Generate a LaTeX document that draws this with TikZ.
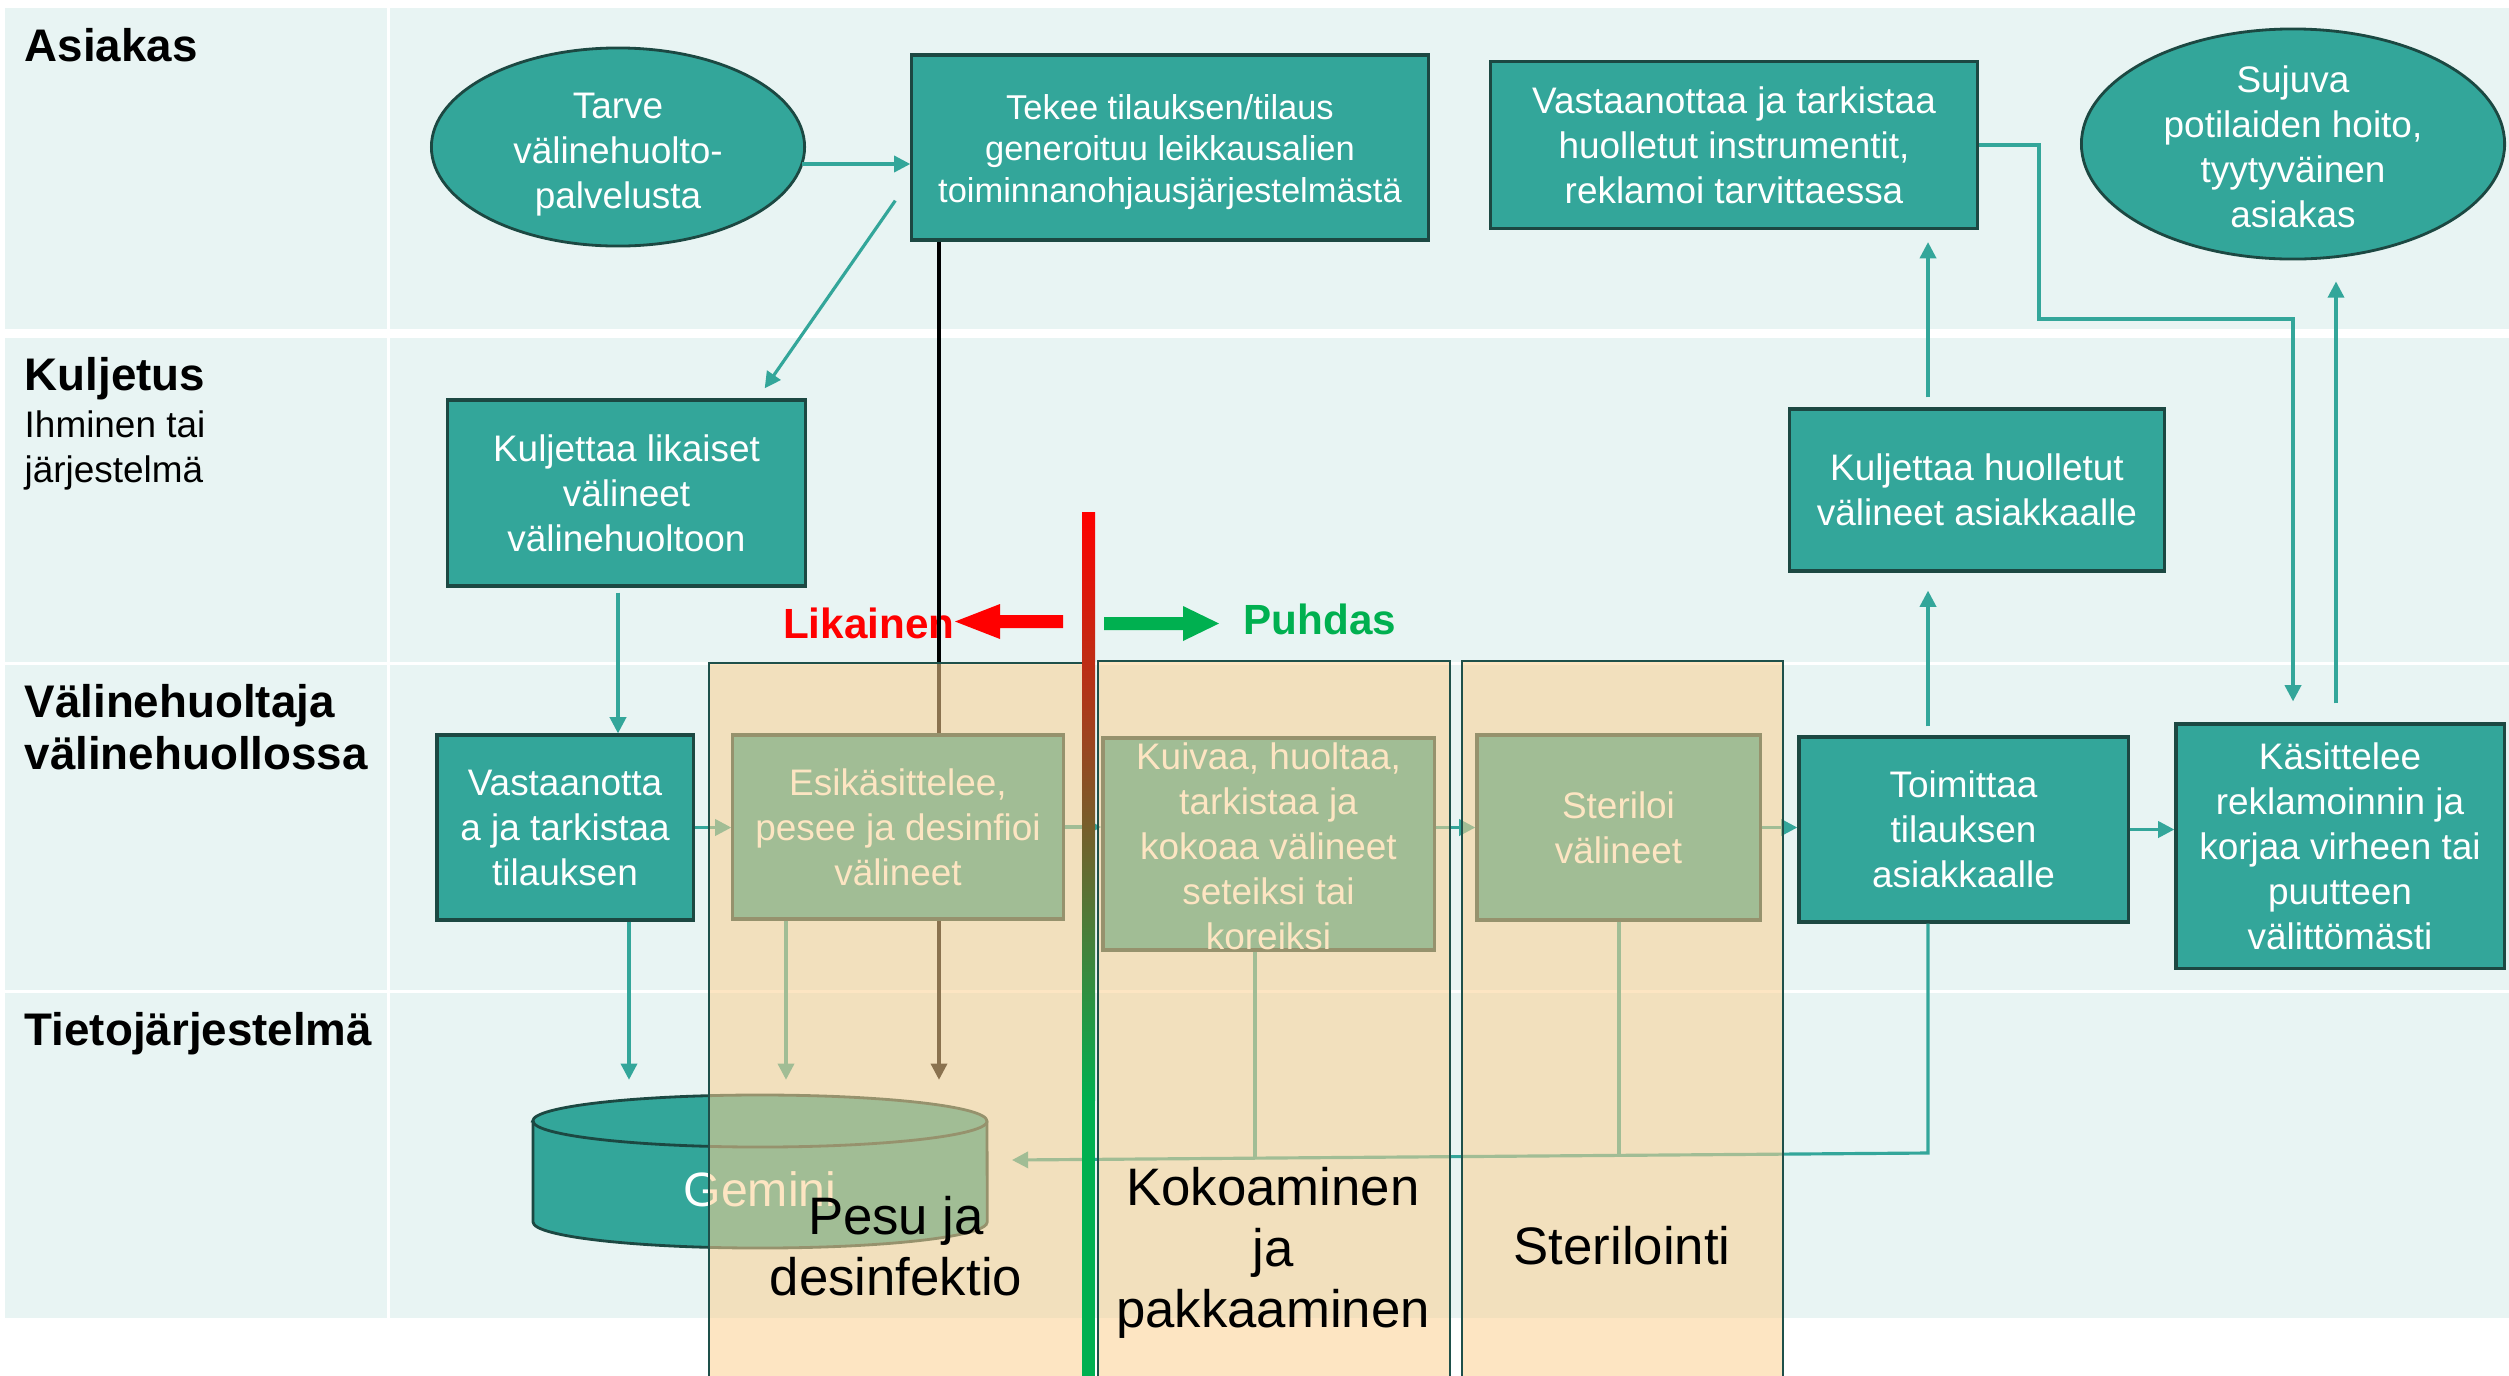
\documentclass[tikz,border=0pt]{standalone}
\usepackage{fontspec}
\setmainfont{Liberation Sans}
\usetikzlibrary{shapes.geometric,arrows.meta,calc}
\definecolor{lanebg}{RGB}{232,244,243}
\definecolor{tealc}{RGB}{51,166,154}
\definecolor{bordc}{RGB}{28,72,66}
\definecolor{peach}{RGB}{252,208,145}
\definecolor{phbord}{RGB}{30,80,74}
\definecolor{likred}{RGB}{255,0,0}
\definecolor{puhgreen}{RGB}{0,176,80}
\newcommand\fsz[2]{\fontsize{#1}{#2}\selectfont}
\begin{document}
\begin{tikzpicture}[x=0.01cm,y=-0.01cm,
  box/.style={draw=bordc,line width=0.9pt,fill=tealc,text=white,align=center,inner sep=0pt,font=\fsz{10.5}{12.8}},
  oval/.style={draw=bordc,line width=0.8pt,fill=tealc,ellipse,inner sep=0pt},
  boxtxt/.style={text=white,align=center,inner sep=0pt,font=\fsz{10.5}{12.8}},
  conn/.style={draw=tealc,line width=0.9pt,-{Triangle[length=4.6pt,width=4.6pt]}},
  plain/.style={draw=tealc,line width=0.9pt},
  lanelab/.style={anchor=base west,font=\fsz{13}{15}\bfseries,inner sep=0pt},
  lanesub/.style={anchor=base west,font=\fsz{10.5}{12.8},inner sep=0pt},
  phase/.style={draw=phbord,line width=0.7pt,fill=peach,fill opacity=0.55},
  phaselab/.style={align=center,font=\fsz{15}{17.4},inner sep=0pt}
]
\useasboundingbox (0,0) rectangle (2509,1375);
\fill[white] (0,0) rectangle (2509,1375);
% lanes
\fill[lanebg] (5,8) rectangle (387,329);
\fill[lanebg] (390,8) rectangle (2509,329);
\fill[lanebg] (5,338) rectangle (387,662);
\fill[lanebg] (390,338) rectangle (2509,662);
\fill[lanebg] (5,665) rectangle (387,990);
\fill[lanebg] (390,665) rectangle (2509,990);
\fill[lanebg] (5,993) rectangle (387,1318);
\fill[lanebg] (390,993) rectangle (2509,1318);
% lane labels
\node[lanelab] (l1) at (24,61) {Asiakas};
\node[lanelab] (l2) at (24,390) {Kuljetus};
\node[lanesub] (l2a) at (24,437) {Ihminen tai};
\node[lanesub] (l2b) at (24,482) {järjestelmä};
\node[lanelab] (l3) at (24,717) {Välinehuoltaja};
\node[lanelab] (l3b) at (24,769) {välinehuollossa};
\node[lanelab] (l4) at (24,1045) {Tietojärjestelmä};
% nodes
\node[oval,minimum width=3.73cm,minimum height=1.98cm] (tarve) at (618,147) {};
\node[boxtxt] (tarvetxt) at (618,155) {Tarve\\välinehuolto-\\palvelusta};
\node[box,minimum width=5.16cm,minimum height=1.85cm] (tekee) at (1170,147.5) {};
\node[boxtxt,font=\fsz{9.8}{11.85}] (tekeetxt) at (1170,152) {Tekee tilauksen/tilaus\\generoituu leikkausalien\\toiminnanohjausjärjestelmästä};
\node[box,minimum width=4.86cm,minimum height=1.67cm] (vast1) at (1734,145) {Vastaanottaa ja tarkistaa\\huolletut instrumentit,\\reklamoi tarvittaessa};
\node[oval,minimum width=4.23cm,minimum height=2.30cm] (sujuva) at (2293,144) {};
\node[boxtxt] (sujuvatxt) at (2293,147) {Sujuva\\potilaiden hoito,\\tyytyväinen\\asiakas};
\node[box,minimum width=3.57cm,minimum height=1.86cm] (kulj1) at (626.5,493) {Kuljettaa likaiset\\välineet\\välinehuoltoon};
\node[box,minimum width=3.74cm,minimum height=1.62cm] (kulj2) at (1977,490) {Kuljettaa huolletut\\välineet asiakkaalle};
\node[box,minimum width=2.56cm,minimum height=1.85cm] (vast2) at (565,827.5) {Vastaanotta\\a ja tarkistaa\\tilauksen};
\node[box,minimum width=3.30cm,minimum height=1.84cm] (esik) at (898,827) {Esikäsittelee,\\pesee ja desinfioi\\välineet};
\node[box,minimum width=3.31cm,minimum height=2.12cm] (kuivaa) at (1268.5,844) {};
\node[boxtxt] (kuivaatxt) at (1268.5,846) {Kuivaa, huoltaa,\\tarkistaa ja\\kokoaa välineet\\seteiksi tai\\koreiksi};
\node[box,minimum width=2.83cm,minimum height=1.85cm] (steril) at (1618.5,827.5) {Steriloi\\välineet};
\node[box,minimum width=3.29cm,minimum height=1.85cm] (toim) at (1963.5,829.5) {Toimittaa\\tilauksen\\asiakkaalle};
\node[box,minimum width=3.28cm,minimum height=2.44cm] (kasit) at (2340,846) {Käsittelee\\reklamoinnin ja\\korjaa virheen tai\\puutteen\\välittömästi};
\node[inner sep=0pt,minimum width=4.54cm,minimum height=1.53cm] (gem) at (760,1172) {};
% helper coordinates
\coordinate (xa) at (618,0);
\coordinate (xb) at (629,0);
\coordinate (xe) at (786,0);
\coordinate (xk) at (939,0);
\coordinate (xc) at (1928,0);
\coordinate (xd) at (2336,0);
\coordinate (xf) at (1255,0);
\coordinate (xg) at (1619,0);
\coordinate (xh) at (2293,0);
\coordinate (bend) at (2039,319);
\coordinate (cj) at (1928,1153);
\coordinate (jf) at (1255,1157);
\coordinate (jg) at (1619,1155);
\coordinate (gemR) at (1012,1160);
% connectors
\draw[conn] ($(tarve.center)+(184,17)$) -- ($(tekee.west)+(0,16.5)$);
\draw[conn] ($(tekee.south west)+(-15,-41)$) -- ($(kulj1.north east)+(-42,-10)$);
\draw[conn,shorten <=0.05cm] (kulj1.south -| xa) -- (vast2.north -| xa);
\draw[conn] (vast2.east) -- (vast2.east -| esik.west);
\draw[conn,shorten >=0.15cm] (vast2.south -| xb) -- (gem.north -| xb);
\draw[conn,shorten >=0.15cm] (esik.south -| xe) -- (gem.north -| xe);
\draw[line width=0.9pt,black] (tekee.south -| xk) -- (esik.north -| xk);
\draw[conn,draw=black,shorten >=0.15cm] (esik.south -| xk) -- (gem.north -| xk);
\draw[conn] (esik.east) -- (esik.east -| kuivaa.west);
\draw[conn] (steril.west -| kuivaa.east) -- (steril.west);
\draw[conn] (steril.east) -- (steril.east -| toim.west);
\draw[conn] (toim.east) -- (toim.east -| kasit.west);
\draw[conn,shorten <=0.09cm,shorten >=0.18cm] (toim.north -| xc) -- (kulj2.south -| xc);
\draw[conn,shorten <=0.10cm,shorten >=0.12cm] (kulj2.north -| xc) -- (vast1.south -| xc);
\draw[conn,shorten >=0.21cm] (vast1.east) -| (bend) -| (kasit.north -| xh);
\draw[conn,shorten <=0.19cm,shorten >=0.21cm] (kasit.north -| xd) -- (sujuva.south -| xd);
\draw[conn] (toim.south -| xc) -- (cj) -- (gemR);
\draw[plain] (kuivaa.south -| xf) -- (jf);
\draw[plain] (steril.south -| xg) -- (jg);
% Gemini cylinder
\filldraw[fill=tealc,draw=bordc,line width=0.8pt] (533,1121) -- (533,1222) arc[start angle=180,end angle=360,x radius=2.27cm,y radius=0.26cm] -- (987,1121) arc[start angle=0,end angle=180,x radius=2.27cm,y radius=0.26cm] -- cycle;
\draw[bordc,line width=0.8pt] (533,1121) arc[start angle=180,end angle=360,x radius=2.27cm,y radius=0.26cm];
\node[text=white,font=\fsz{13.7}{16},inner sep=0pt] (gemtxt) at (760,1189) {Gemini};
% phase overlays
\path[phase] (709,663) rectangle (1090,1380);
\path[phase] (1098,661) rectangle (1450,1380);
\path[phase] (1462,661) rectangle (1783,1380);
\node[phaselab] (pesu) at (896,1246) {Pesu ja\\desinfektio};
\node[phaselab] (kokoa) at (1273,1253) {Kokoaminen\\ja\\pakkaaminen};
\node[phaselab] (steri) at (1622,1246) {Sterilointi};
% red-green divider
\shade[top color=likred,bottom color=puhgreen] (1082,512) rectangle (1095,1100);
\fill[puhgreen] (1082,1099) rectangle (1095,1380);
% Likainen / Puhdas
\fill[likred] (1063,615) -- (1000,615) -- (1000,604) -- (955,621.5) -- (1000,639) -- (1000,628) -- (1063,628) -- cycle;
\fill[puhgreen] (1104,617) -- (1183,617) -- (1183,606) -- (1219,623.5) -- (1183,641) -- (1183,630) -- (1104,630) -- cycle;
\node[font=\fsz{12}{14}\bfseries,text=likred,anchor=base east,inner sep=0pt] (lik) at (955,638) {Likainen};
\node[font=\fsz{12}{14}\bfseries,text=puhgreen,anchor=base west,inner sep=0pt] (puh) at (1243,634) {Puhdas};
\draw[line width=0.9pt,black] (lik.north -| xk) -- (lik.south -| xk);
\end{tikzpicture}
\end{document}
